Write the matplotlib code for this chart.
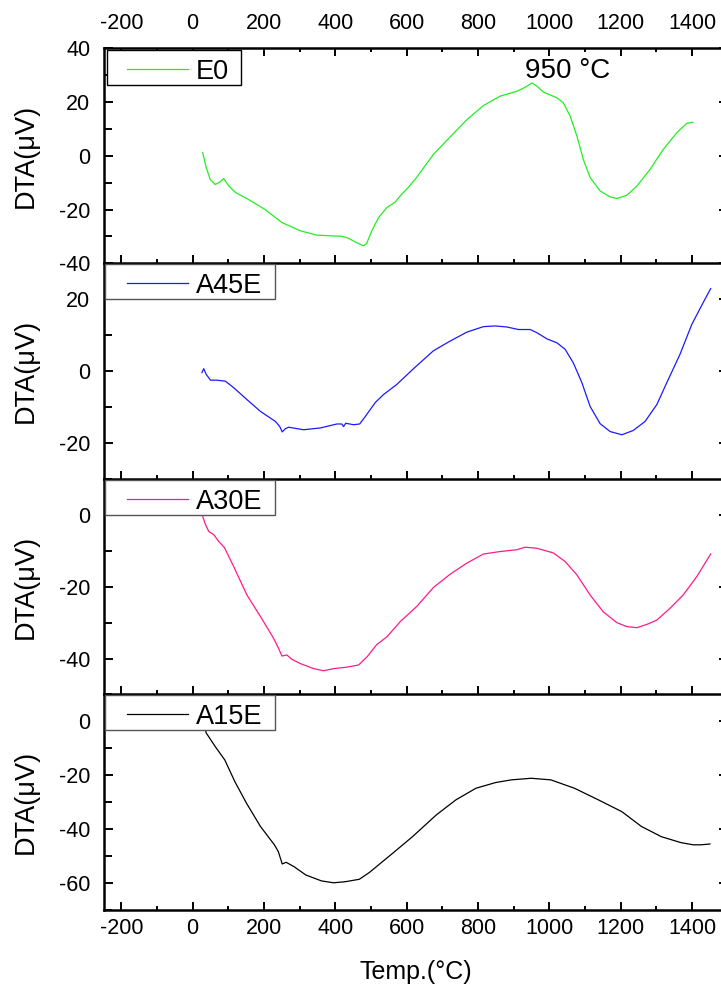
import matplotlib
matplotlib.use("Agg")
import matplotlib.pyplot as plt
from matplotlib.lines import Line2D
from matplotlib.patches import Rectangle
from matplotlib.ticker import MultipleLocator

plt.rcParams['font.family'] = ['Liberation Sans', 'DejaVu Sans']
plt.rcParams['axes.unicode_minus'] = False

# ---------------- data ----------------
e0_temp = [28, 38, 49, 63, 76, 87, 101, 120, 152, 204, 250, 302, 348, 395, 415, 432, 456, 479, 488,
           502, 521, 544, 568, 582, 605, 628, 675, 722, 769, 815, 862, 909, 932, 951, 965, 983, 1021,
           1039, 1058, 1077, 1095, 1114, 1142, 1170, 1189, 1217, 1245, 1282, 1319, 1357, 1385, 1402]
e0_dta = [1.1, -4.4, -8.8, -10.7, -9.8, -8.5, -11.2, -13.7, -15.9, -20.1, -24.8, -27.9, -29.5, -29.8,
          -29.9, -30.4, -32.0, -33.5, -32.5, -27.9, -23.0, -19.3, -17.2, -14.9, -11.7, -8.0, 0.5, 7.0,
          13.4, 18.6, 22.1, 23.9, 25.4, 27.0, 25.8, 23.6, 21.5, 19.6, 14.7, 7.3, -1.4, -8.1, -13.1,
          -15.3, -15.9, -14.7, -11.3, -5.1, 2.3, 8.5, 12.0, 12.4]

a45e_temp = [26, 31, 38, 50, 68, 92, 115, 152, 190, 232, 244, 251, 260, 269, 311, 358, 404, 418, 423,
             429, 451, 468, 484, 512, 535, 572, 619, 675, 722, 769, 815, 848, 881, 913, 946, 965, 993,
             1021, 1044, 1067, 1091, 1114, 1142, 1170, 1203, 1235, 1268, 1301, 1329, 1366, 1399, 1431, 1452]
a45e_dta = [-0.4, 0.7, -0.9, -2.5, -2.5, -2.8, -4.6, -7.9, -11.2, -14.0, -15.4, -16.9, -16.0, -15.6,
            -16.3, -15.8, -14.7, -14.7, -15.4, -14.5, -14.9, -14.7, -12.6, -8.7, -6.5, -3.7, 0.7, 5.7,
            8.4, 10.9, 12.4, 12.6, 12.3, 11.6, 11.6, 10.7, 9.0, 7.9, 6.1, 2.3, -3.2, -9.8, -14.6, -16.8,
            -17.7, -16.5, -14.0, -9.3, -3.2, 4.7, 13.0, 19.1, 23.0]

a30e_temp = [22, 26, 36, 45, 59, 73, 89, 115, 152, 190, 227, 241, 250, 264, 278, 302, 339, 367, 395,
             432, 465, 489, 516, 545, 582, 629, 675, 722, 769, 815, 862, 909, 932, 965, 1011, 1044, 1077,
             1114, 1151, 1189, 1217, 1245, 1273, 1301, 1338, 1375, 1413, 1452]
a30e_dta = [3.0, 0.1, -2.7, -4.6, -5.5, -7.4, -9.1, -14.4, -22.3, -28.3, -34.4, -37.2, -39.3, -39.0,
            -40.2, -41.4, -42.8, -43.4, -42.8, -42.4, -41.8, -39.5, -36.1, -33.9, -29.7, -25.4, -20.2,
            -16.5, -13.4, -10.9, -10.2, -9.7, -9.0, -9.3, -10.6, -13.0, -16.7, -22.3, -27.0, -30.0,
            -31.1, -31.4, -30.5, -29.3, -26.0, -22.3, -17.2, -10.9]

a15e_temp = [22, 29, 38, 63, 90, 118, 151, 190, 229, 240, 251, 262, 284, 317, 361, 395, 428, 467, 495,
             561, 616, 683, 738, 794, 849, 893, 949, 1004, 1070, 1137, 1203, 1258, 1314, 1369, 1403,
             1425, 1450]
a15e_dta = [2.0, -0.6, -4.3, -9.3, -14.3, -22.3, -30.4, -39.0, -45.8, -48.3, -52.9, -52.3, -53.9,
            -57.0, -59.2, -59.9, -59.5, -58.6, -56.1, -48.9, -42.8, -34.7, -29.1, -24.8, -22.7, -21.7,
            -21.1, -21.7, -24.8, -29.1, -33.5, -39.0, -42.8, -45.0, -45.8, -45.8, -45.5]

series_names = ['E0', 'A45E', 'A30E', 'A15E']
series_temps = [e0_temp, a45e_temp, a30e_temp, a15e_temp]
series_dtas = [e0_dta, a45e_dta, a30e_dta, a15e_dta]
series_colors = ['#22ee22', '#1a1aff', '#ff1a8c', '#000000']
y_limits = [(-40, 40), (-30, 30), (-50, 10), (-70, 10)]
x_limits = (-250, 1500)
x_ticks = [-200, 0, 200, 400, 600, 800, 1000, 1200, 1400]
peak_label = '950 °C'
peak_pos = (1050, 31.5)

# ---------------- figure ----------------
W, H = 721, 990
fig = plt.figure(figsize=(W / 100, H / 100), dpi=100)
left_px, right_px = 103.5, 727.8
top_px, bottom_px = 47.9, 910.0
ph = (bottom_px - top_px) / 4

tick_fs = 15.5
leg_fs = 19.5
legend_edges = ['black', '#555555', '#555555', '#555555']

for k in range(4):
    y0 = 1 - (top_px + (k + 1) * ph) / H
    ax = fig.add_axes([left_px / W, y0, (right_px - left_px) / W, ph / H])
    ax.set_facecolor('none')
    ax.plot(series_temps[k], series_dtas[k], color=series_colors[k], lw=0.9)
    ax.set_xlim(*x_limits)
    ax.set_ylim(*y_limits[k])
    ax.set_xticks(x_ticks)
    ax.xaxis.set_minor_locator(MultipleLocator(100))
    ax.yaxis.set_major_locator(MultipleLocator(20))
    ax.yaxis.set_minor_locator(MultipleLocator(10))
    for s in ax.spines.values():
        s.set_linewidth(1.8)
    if k > 0:
        ax.spines['top'].set_visible(False)

    ax.tick_params(axis='x', which='both', direction='in', bottom=True, top=(k == 0),
                   labelbottom=(k == 3), labeltop=(k == 0), labelsize=tick_fs, width=1.4)
    ax.tick_params(axis='x', which='major', length=6)
    ax.tick_params(axis='x', which='minor', length=2.6)
    ax.tick_params(axis='x', which='major', pad=6)
    if k == 0:
        ax.xaxis.set_tick_params(which='major', pad=10)
    ax.tick_params(axis='y', which='major', direction='in', left=True, right=True,
                   length=6.5, width=1.4, labelsize=tick_fs, pad=9.5)
    ax.tick_params(axis='y', which='minor', direction='in', left=True, right=False,
                   length=6, width=1.4)

    ax.set_ylabel('DTA(μV)', fontsize=19.5)
    ax.yaxis.set_label_coords(-0.103, 0.5)

    # legend box (drawn in axes fraction)
    aw = right_px - left_px
    if k == 0:
        bx0, bx1 = 107.3 - left_px, 240.7 - left_px
        btop, bbot = 2.0, 37.0
        ly = 21.0
    else:
        bx0, bx1 = 105.0 - left_px, 275.0 - left_px
        btop, bbot = 0.8, 36.0
        ly = 20.0
    rect = Rectangle((bx0 / aw, 1 - bbot / ph), (bx1 - bx0) / aw, (bbot - btop) / ph,
                     transform=ax.transAxes, facecolor='white', edgecolor=legend_edges[k],
                     lw=1.0, zorder=5)
    ax.add_patch(rect)
    ax.add_line(Line2D([(127.3 - left_px) / aw, (188.3 - left_px) / aw], [1 - ly / ph, 1 - ly / ph],
                       transform=ax.transAxes, color=series_colors[k], lw=0.9, zorder=6))
    ax.text((196.0 - left_px) / aw, 1 - ly / ph, series_names[k], transform=ax.transAxes,
            fontsize=leg_fs, ha='left', va='center_baseline', zorder=7)

    if k == 0:
        ax.text(peak_pos[0], peak_pos[1], peak_label, fontsize=20, ha='center', va='center')
    if k == 3:
        ax.set_xlabel('Temp.(°C)', fontsize=18, labelpad=15)

fig.savefig('out.png', dpi=100)
